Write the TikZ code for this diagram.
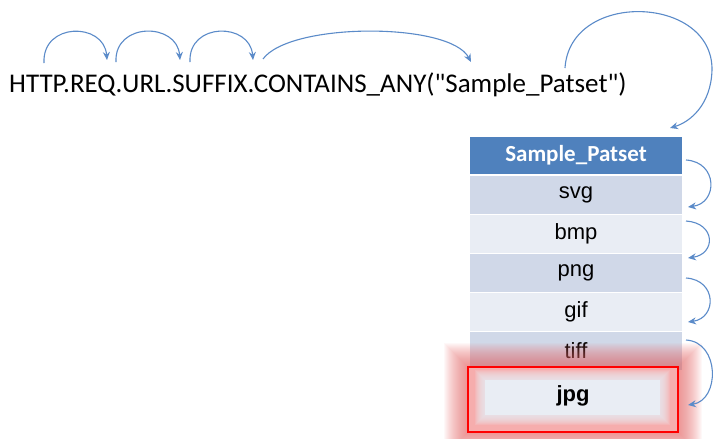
\documentclass[tikz,border=0pt]{standalone}
\usepackage{fontspec}
\setmainfont{Carlito}[Ligatures=TeXOff]
\newfontfamily\arialf{Liberation Sans}
\usetikzlibrary{arrows.meta}
\definecolor{hdrblue}{HTML}{4F81BD}
\definecolor{rowdark}{HTML}{D0D8E8}
\definecolor{rowlight}{HTML}{E9EDF4}
\definecolor{arcblue}{HTML}{5B8BC9}
\definecolor{glowred}{HTML}{EE6A6A}
\tikzset{
  cell/.style={minimum width=212pt, minimum height=38pt, inner sep=0pt, outer sep=0pt, font=\arialf\fontsize{22}{26}\selectfont, text=black},
  darkcell/.style={cell, fill=rowdark},
  lightcell/.style={cell, fill=rowlight},
  arc/.style={draw=arcblue, line width=1.1pt, -{Stealth[length=8pt,width=7pt]}},
}
\begin{document}
\begin{tikzpicture}[x=1pt,y=-1pt]
\useasboundingbox (0,0) rectangle (713,439);
\fill[white] (0,0) rectangle (713,439);
% main expression
\node[anchor=base west, inner sep=0pt, font=\fontsize{27}{31}\selectfont] (expr) at (9,92) {HTTP.REQ.URL.SUFFIX.CONTAINS\_ANY("Sample\_Patset")};
% table
\node[cell, fill=hdrblue, minimum height=37pt, text=white, font=\bfseries\fontsize{23}{27}\selectfont, anchor=north west] (hdr) at (470,137) {Sample\_Patset};
\node[darkcell, anchor=north west] (svg) at (470,176) {svg};
\node[lightcell, anchor=north west] (bmp) at (470,215) {bmp};
\node[darkcell, anchor=north west] (png) at (470,254) {png};
\node[lightcell, anchor=north west] (gif) at (470,293) {gif};
\node[darkcell, anchor=north west] (tiff) at (470,332) {tiff};
% glow
\begin{scope}
\foreach \d in {24,23,...,0}{
  \fill[glowred, opacity=0.045] (468-\d,367-\d) rectangle (678+\d,432+\d);
}
\fill[glowred!55!white] (468,367) rectangle (678,432);
\foreach \d in {10,9,...,0}{
  \fill[rowlight, opacity=0.15] (485-\d,380-\d) rectangle (660+\d,415+\d);
}
\fill[rowlight] (485,380) rectangle (660,415);
\end{scope}
\node[cell, draw=red, line width=2pt, minimum width=210pt, minimum height=65pt, anchor=north west, font=\arialf\bfseries\fontsize{22}{26}\selectfont] (jpg) at (468,367) {\raisebox{12pt}{jpg}};
% coordinates
\coordinate (a0) at (44,63);
\coordinate (a1) at (107,60);
\coordinate (a2) at (116,62);
\coordinate (a3) at (180,60);
\coordinate (a4) at (190,62);
\coordinate (a5) at (253,60);
\coordinate (a6) at (263,59);
\coordinate (a7) at (471,62);
\coordinate (b0) at (565,68);
\coordinate (b1) at (670,128);
% top arcs
\draw[arc] (a0) .. controls (42,22) and (104,22) .. (a1);
\draw[arc] (a2) .. controls (114,22) and (177,22) .. (a3);
\draw[arc] (a4) .. controls (188,22) and (250,22) .. (a5);
\draw[arc] (a6) .. controls (290,22) and (450,22) .. (a7);
\draw[arc] (b0) .. controls (570,-10) and (713,-5) .. (712,70) .. controls (711,105) and (690,122) .. (b1);
% right arcs
\coordinate (r1s) at (686,160); \coordinate (r1e) at (688,207);
\coordinate (r2s) at (686,221); \coordinate (r2e) at (688,258);
\coordinate (r3s) at (686,278); \coordinate (r3e) at (688,322);
\coordinate (r4s) at (686,340); \coordinate (r4e) at (688,405);
\draw[arc] (r1s) .. controls (718,162) and (718,203) .. (r1e);
\draw[arc] (r2s) .. controls (716,223) and (716,254) .. (r2e);
\draw[arc] (r3s) .. controls (717,280) and (717,318) .. (r3e);
\draw[arc] (r4s) .. controls (720,342) and (720,400) .. (r4e);
\end{tikzpicture}
\end{document}
